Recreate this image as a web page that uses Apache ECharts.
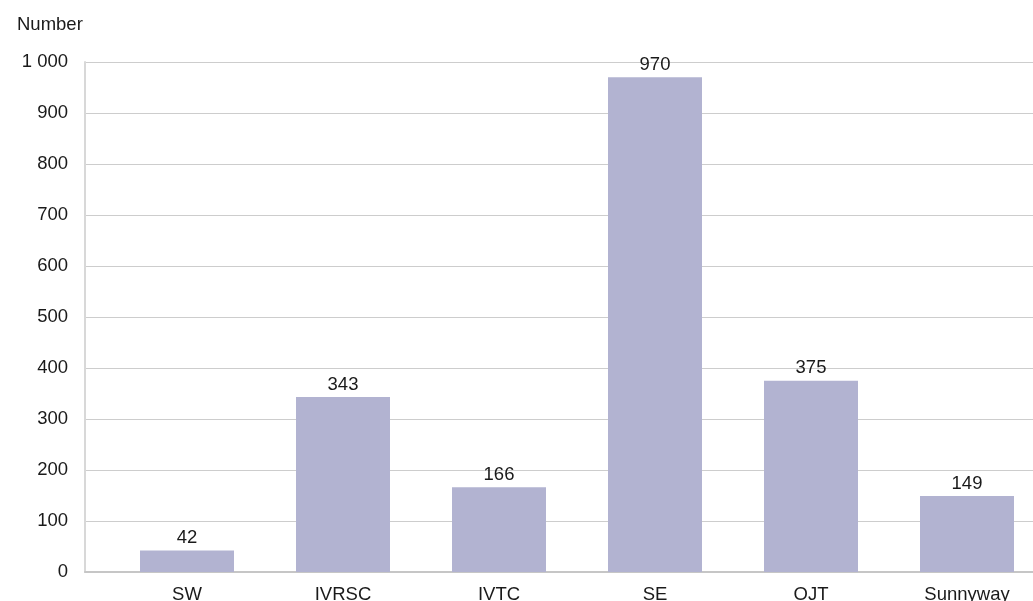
<!DOCTYPE html>
<html><head><meta charset="utf-8">
<script src="https://cdn.jsdelivr.net/npm/echarts@6/dist/echarts.min.js"></script>
<style>html,body{margin:0;padding:0;background:#fff;overflow:hidden}#c{width:1045px;height:601px}</style>
</head><body><div id="c"></div>
<script>
const categories = ['SW', 'IVRSC', 'IVTC', 'SE', 'OJT', 'Sunnyway'];
const values = [42, 343, 166, 970, 375, 149];
const yTicks = [0, 100, 200, 300, 400, 500, 600, 700, 800, 900, 1000];
const axisName = 'Number';

const font = '"Liberation Sans", Arial, Helvetica, sans-serif';
const gridColor = '#cdcdcd';
const fmt = v => String(v).replace(/\B(?=(\d{3})+(?!\d))/g, ' ');
const fs = 18.5;

const chart = echarts.init(document.getElementById('c'), null, {renderer: 'canvas'});
chart.setOption({
  animation: false,
  title: {text: axisName, left: 12, top: 10, textStyle: {fontFamily: font, fontSize: fs, fontWeight: 'normal', color: '#1a1a1a'}},
  grid: [
    {left: 109, width: 936, top: 62, bottom: 29, containLabel: false, outerBoundsMode: 'none'},
    {left: 85, width: 24, top: 62, bottom: 29, containLabel: false, outerBoundsMode: 'none'}
  ],
  xAxis: [
    {type: 'category', gridIndex: 0, data: categories,
     axisLine: {show: true, lineStyle: {color: '#c6c6c6', width: 2}},
     axisTick: {show: false},
     axisLabel: {margin: 13, fontFamily: font, fontSize: fs, color: '#1a1a1a'}},
    {type: 'category', gridIndex: 1, data: [''],
     axisLine: {show: true, lineStyle: {color: '#c6c6c6', width: 2}},
     axisTick: {show: false}, axisLabel: {show: false}}
  ],
  yAxis: [
    {type: 'value', gridIndex: 0, min: yTicks[0], max: yTicks[yTicks.length - 1], interval: 100,
     offset: 24,
     axisLine: {show: false}, axisTick: {show: false},
     axisLabel: {margin: 17, fontFamily: font, fontSize: fs, color: '#1a1a1a', formatter: fmt},
     splitLine: {show: true, lineStyle: {color: gridColor, width: 1}}},
    {type: 'value', gridIndex: 1, min: yTicks[0], max: yTicks[yTicks.length - 1], interval: 100,
     axisLine: {show: true, lineStyle: {color: '#d8d8d8', width: 2}}, axisTick: {show: false},
     axisLabel: {show: false},
     splitLine: {show: true, lineStyle: {color: gridColor, width: 1}}}
  ],
  series: [{
    type: 'bar', xAxisIndex: 0, yAxisIndex: 0, data: values, barWidth: 94,
    itemStyle: {color: '#b2b3d1'},
    label: {show: true, position: 'top', distance: 3, fontFamily: font, fontSize: fs, color: '#1a1a1a'}
  }]
});
</script></body></html>
